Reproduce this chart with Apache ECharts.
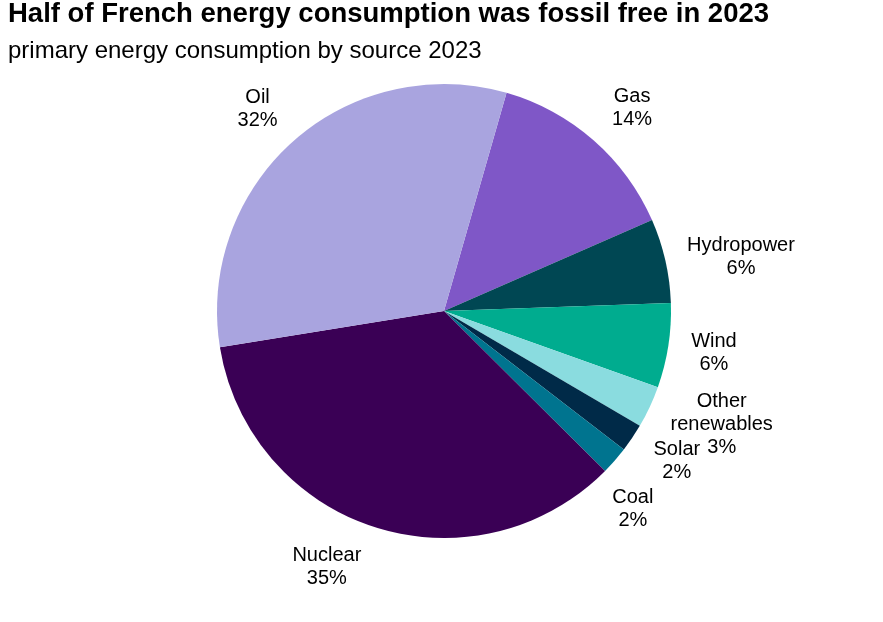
<!DOCTYPE html>
<html>
<head>
<meta charset="utf-8">
<script src="https://cdn.jsdelivr.net/npm/echarts@6/dist/echarts.min.js"></script>
<style>html,body{margin:0;padding:0;background:#fff}#c{width:883px;height:622px}</style>
</head>
<body>
<div id="c"></div>
<script>
const categories = ['Gas', 'Hydropower', 'Wind', 'Other renewables', 'Solar', 'Coal', 'Nuclear', 'Oil'];
const labelNames = ['Gas', 'Hydropower', 'Wind', 'Other\nrenewables', 'Solar', 'Coal', 'Nuclear', 'Oil'];
const shares = [14, 6, 6, 3, 2, 2, 35, 32];
const colors = ['#7f57c7', '#004753', '#00ac8f', '#8adcdf', '#002a48', '#00748f', '#3a0055', '#a9a4df'];

const CX = 444, CY = 311, R = 227, START = 74, GAP = 21;
// label placement tweaks (degrees along the arc, pixels radially), per slice order
const LABEL_TWEAK = [[-1.3, 0], [-2.1, -3], [0.3, -1], [3.1, -9], [1.5, -4], [-4.8, -7], [-7, -4], [0.8, -2]];
const total = shares.reduce((a, b) => a + b, 0);
const mids = [];
let acc = 0;
shares.forEach(v => { mids.push(START - (acc + v / 2) / total * 360); acc += v; });

const FONT = 'Liberation Sans, Arial, sans-serif';
const chart = echarts.init(document.getElementById('c'), null, {renderer: 'canvas'});
chart.setOption({
  animation: false,
  title: {
    text: 'Half of French energy consumption was fossil free in 2023',
    subtext: 'primary energy consumption by source 2023',
    left: 3, top: -6, itemGap: 8,
    textStyle: {fontFamily: FONT, fontSize: 27.5, fontWeight: 'bold', color: '#000', lineHeight: 31},
    subtextStyle: {fontFamily: FONT, fontSize: 24, color: '#000', lineHeight: 26}
  },
  series: [{
    type: 'pie',
    center: [CX, CY],
    radius: [0, R],
    startAngle: START,
    clockwise: true,
    avoidLabelOverlap: false,
    itemStyle: {borderWidth: 0},
    data: categories.map((c, i) => ({name: c, value: shares[i], itemStyle: {color: colors[i]}})),
    label: {
      show: true,
      position: 'outside',
      formatter: p => labelNames[p.dataIndex] + '\n' + p.value + '%',
      fontFamily: FONT,
      fontSize: 20,
      lineHeight: 23,
      color: '#000',
      align: 'center'
    },
    labelLine: {show: false},
    labelLayout: function (p) {
      const t = LABEL_TWEAK[p.dataIndex];
      const a = (mids[p.dataIndex] + t[0]) * Math.PI / 180;
      const w = p.labelRect.width, h = p.labelRect.height;
      const c = Math.cos(a), s = Math.sin(a);
      const d = R + GAP + t[1] + Math.abs(w / 2 * c) + Math.abs(h / 2 * s);
      return {x: CX + d * c, y: CY - d * s + 2, align: 'center', verticalAlign: 'middle'};
    }
  }]
});
</script>
</body>
</html>
